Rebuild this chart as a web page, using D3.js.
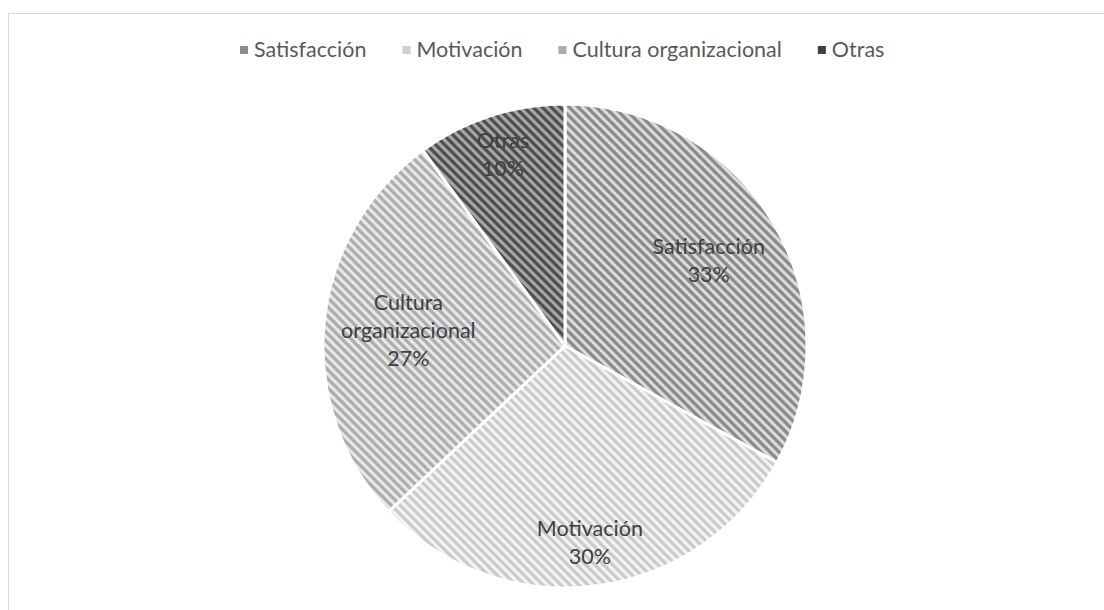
<!DOCTYPE html>
<html>
<head>
<meta charset="utf-8">
<script src="https://cdn.jsdelivr.net/npm/d3@7.9.0/dist/d3.min.js"></script>
<style>
  html, body { margin: 0; padding: 0; background: #fff; }
  svg { display: block; font-family: Lato, "Open Sans", sans-serif; }
</style>
</head>
<body>
<svg id="chart" width="1104" height="610"></svg>
<script>
const categories = ['Satisfacción', 'Motivación', 'Cultura organizacional', 'Otras'];
const values = [33, 30, 27, 10];
const labelLines = [['Satisfacción'], ['Motivación'], ['Cultura', 'organizacional'], ['Otras']];

// hatch colours: stripe / background
const stripeColors = ['#8a8a8a', '#cacaca', '#adadad', '#4e4e4e'];
const backColors = ['#dadada', '#f3f3f3', '#e7e7e7', '#a6a6a6'];
const legendColors = ['#8c8c8c', '#cfcfcf', '#acacac', '#3f3f3f'];
const labelRadius = [0.69, 0.82, 0.65, 0.83];

const width = 1104, height = 610;
const cx = 565, cy = 346, radius = 242;

const svg = d3.select('#chart');

// chart frame
svg.append('rect')
  .attr('x', 8.5).attr('y', 13.5)
  .attr('width', 1120).attr('height', 640)
  .attr('fill', '#fff')
  .attr('stroke', '#d9d9d9')
  .attr('stroke-width', 1);

const defs = svg.append('defs');
categories.forEach((c, i) => {
  let p = defs.append('pattern')
    .attr('id', 'hatch' + i)
    .attr('patternUnits', 'userSpaceOnUse')
    .attr('width', 9).attr('height', 9);
  p.append('rect').attr('width', 9).attr('height', 9).attr('fill', backColors[i]);
  p.append('path')
    .attr('d', 'M0,0L9,9M-4.5,4.5L4.5,13.5M4.5,-4.5L13.5,4.5')
    .attr('stroke', stripeColors[i])
    .attr('stroke-width', 3.2);
});

let pie = d3.pie().sort(null).value((d) => d);
let arcData = pie(values);
let arc = d3.arc().innerRadius(0).outerRadius(radius);

let g = svg.append('g').attr('transform', `translate(${cx},${cy})`);

g.selectAll('path.slice')
  .data(arcData)
  .join('path')
  .attr('class', 'slice')
  .attr('d', arc)
  .attr('fill', (d, i) => `url(#hatch${i})`)
  .attr('stroke', '#fff')
  .attr('stroke-width', 3)
  .attr('stroke-linejoin', 'round');

// data labels
arcData.forEach((d, i) => {
  let r = radius * labelRadius[i];
  let [x, y] = d3.arc().innerRadius(r).outerRadius(r).centroid(d);
  let lines = labelLines[i].concat([Math.round(d.value / d3.sum(values) * 100) + '%']);
  let lh = 28;
  let text = g.append('text')
    .attr('text-anchor', 'middle')
    .attr('fill', '#404040')
    .attr('font-size', 21.5);
  lines.forEach((t, k) => {
    text.append('tspan')
      .attr('x', x)
      .attr('y', y + (k - (lines.length - 1) / 2) * lh + 7)
      .text(t);
  });
});

// legend
let legend = svg.append('g').attr('font-size', 21.5).attr('fill', '#595959');
let lx = 240;
categories.forEach((c, i) => {
  let item = legend.append('g').attr('transform', `translate(${lx},50)`);
  item.append('rect')
    .attr('x', 0).attr('y', -4)
    .attr('width', 8).attr('height', 8)
    .attr('fill', legendColors[i]);
  let t = item.append('text')
    .attr('x', 14).attr('y', 7)
    .text(c);
  lx += 14 + t.node().getComputedTextLength() + 36;
});
</script>
</body>
</html>
